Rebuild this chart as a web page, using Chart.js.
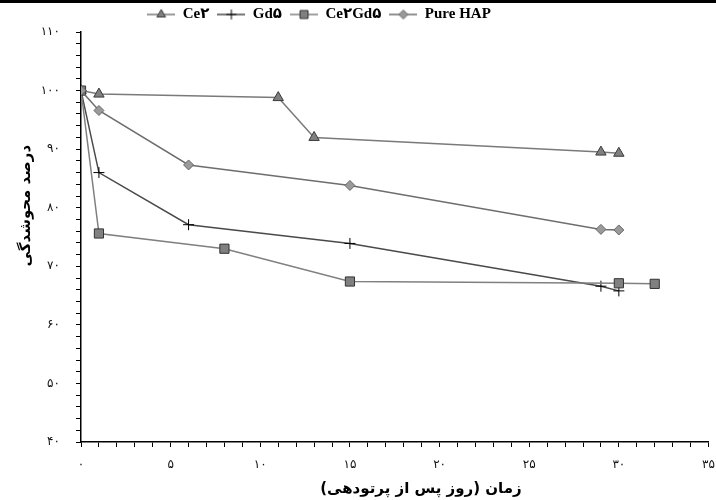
<!DOCTYPE html>
<html>
<head>
<meta charset="utf-8">
<script src="https://cdn.jsdelivr.net/npm/chart.js@4.4.0/dist/chart.umd.min.js"></script>
<style>
  html, body { margin: 0; padding: 0; background: #fff; }
  #wrap { position: relative; width: 716px; height: 500px; }
  #topline { position: absolute; left: 0; top: 0; width: 716px; height: 3px; background: #000; }
</style>
</head>
<body>
<div id="wrap">
  <canvas id="c" width="716" height="500"></canvas>
  <div id="topline"></div>
</div>
<script>
// ---- data ----
const seriesNames = ['Ce۲', 'Gd۵', 'Ce۲Gd۵', 'Pure HAP'];
const ce2Days   = [0, 1, 11, 13, 29, 30];
const ce2Values = [100, 99.4, 98.8, 92.0, 89.5, 89.3];
const gd5Days   = [0, 1, 6, 15, 29, 30];
const gd5Values = [100, 86.0, 77.1, 73.9, 66.6, 65.8];
const ce2gd5Days   = [0, 1, 8, 15, 30, 32];
const ce2gd5Values = [100, 75.6, 73.0, 67.4, 67.1, 67.0];
const hapDays   = [0, 1, 6, 15, 29, 30];
const hapValues = [100, 96.6, 87.3, 83.8, 76.3, 76.2];

const xTickValues = [0, 5, 10, 15, 20, 25, 30, 35];
const xTickLabels = ['۰', '۵', '۱۰', '۱۵', '۲۰', '۲۵', '۳۰', '۳۵'];
const yTickValues = [40, 50, 60, 70, 80, 90, 100, 110];
const yTickLabels = ['۴۰', '۵۰', '۶۰', '۷۰', '۸۰', '۹۰', '۱۰۰', '۱۱۰'];

const xTitle = 'زمان (روز پس از پرتودهی)';
const yTitle = 'درصد محوشدگی';

// ---- styles ----
const styles = [
  { line: '#7a7a7a', marker: 'triangle', fill: '#808080', border: '#3a3a3a', r: 6 },
  { line: '#4a4a4a', marker: 'cross', fill: '#000000', border: '#000000', r: 5.5 },
  { line: '#808080', marker: 'rect', fill: '#808080', border: '#333333', r: 6.5 },
  { line: '#6e6e6e', marker: 'rectRot', fill: '#9a9a9a', border: '#666666', r: 5 }
];

function pts(xs, ys) { return xs.map((x, i) => ({ x: x, y: ys[i] })); }

const allData = [
  pts(ce2Days, ce2Values),
  pts(gd5Days, gd5Values),
  pts(ce2gd5Days, ce2gd5Values),
  pts(hapDays, hapValues)
];

function legendImage(st) {
  const cv = document.createElement('canvas');
  cv.width = 28; cv.height = 14;
  const g = cv.getContext('2d');
  g.strokeStyle = st.line; g.lineWidth = 1.5;
  g.beginPath(); g.moveTo(0, 7); g.lineTo(28, 7); g.stroke();
  const cx = 14, cy = 7;
  g.fillStyle = st.fill; g.strokeStyle = st.border; g.lineWidth = 1;
  g.beginPath();
  if (st.marker === 'triangle') {
    const r = 5;
    g.moveTo(cx, cy - r);
    g.lineTo(cx + r * 0.866, cy + r * 0.5);
    g.lineTo(cx - r * 0.866, cy + r * 0.5);
    g.closePath(); g.fill(); g.stroke();
  } else if (st.marker === 'rect') {
    g.rect(cx - 4, cy - 4, 8, 8); g.fill(); g.stroke();
  } else if (st.marker === 'rectRot') {
    g.moveTo(cx, cy - 4.5); g.lineTo(cx + 4.5, cy); g.lineTo(cx, cy + 4.5); g.lineTo(cx - 4.5, cy);
    g.closePath(); g.fill(); g.stroke();
  } else {
    g.strokeStyle = '#000'; g.lineWidth = 1;
    g.moveTo(cx - 5, cy); g.lineTo(cx + 5, cy); g.moveTo(cx, cy - 5); g.lineTo(cx, cy + 5); g.stroke();
  }
  return cv;
}

const datasets = seriesNames.map((name, i) => ({
  label: name,
  data: allData[i],
  borderColor: styles[i].line,
  borderWidth: 1.5,
  backgroundColor: styles[i].fill,
  pointStyle: styles[i].marker,
  pointRadius: styles[i].r,
  pointHoverRadius: styles[i].r,
  pointBackgroundColor: styles[i].fill,
  pointBorderColor: styles[i].border,
  pointBorderWidth: 1,
  tension: 0,
  fill: false,
  order: 3 - i
}));

const legendShift = {
  id: 'legendShift',
  afterLayout(chart) {
    if (chart.legend) { chart.legend.left -= 36; chart.legend.right -= 36; }
  }
};

const pad = (n) => '\u00A0'.repeat(n);

new Chart(document.getElementById('c'), {
  type: 'line',
  data: { datasets: datasets },
  plugins: [legendShift],
  options: {
    responsive: false,
    animation: false,
    layout: { padding: { left: 0, right: 6, top: -1, bottom: 0 } },
    plugins: {
      tooltip: { enabled: false },
      legend: {
        position: 'top',
        align: 'center',
        labels: {
          usePointStyle: true,
          pointStyleWidth: 28,
          padding: 8,
          color: '#000',
          font: { family: "'Liberation Serif', 'DejaVu Sans', serif", size: 15, weight: 'bold' },
          generateLabels(chart) {
            return chart.data.datasets.map((ds, i) => ({
              text: ds.label,
              pointStyle: legendImage(styles[i]),
              fillStyle: ds.backgroundColor,
              strokeStyle: ds.borderColor,
              lineWidth: 0,
              hidden: false,
              datasetIndex: i,
              fontColor: '#000'
            }));
          }
        }
      }
    },
    scales: {
      x: {
        type: 'linear',
        min: 0, max: 35,
        border: { color: '#000', width: 1.5 },
        grid: { drawOnChartArea: false, drawTicks: true, tickLength: 5, color: '#000' },
        ticks: {
          stepSize: 1,
          autoSkip: false,
          maxRotation: 0,
          padding: 11,
          color: '#111',
          font: { family: "'DejaVu Sans', sans-serif", size: 12 },
          callback(v) {
            const k = xTickValues.indexOf(v);
            return k >= 0 ? xTickLabels[k] : '';
          }
        },
        title: {
          display: true,
          text: pad(10) + xTitle,
          color: '#000',
          font: { family: "'DejaVu Sans', sans-serif", size: 15, weight: 'bold' },
          padding: { top: 0, bottom: 2 }
        },
        afterFit(scale) { scale.height = 58; scale.paddingLeft = 0; scale.paddingRight = 0; }
      },
      y: {
        type: 'linear',
        min: 40, max: 110,
        border: { color: '#000', width: 1.5 },
        grid: { drawOnChartArea: false, drawTicks: true, tickLength: 5, color: '#000' },
        ticks: {
          stepSize: 2,
          autoSkip: false,
          padding: 16,
          color: '#111',
          font: { family: "'DejaVu Sans', sans-serif", size: 12 },
          callback(v) {
            const k = yTickValues.indexOf(v);
            return k >= 0 ? yTickLabels[k] : '';
          }
        },
        title: {
          display: true,
          text: pad(12) + yTitle,
          color: '#000',
          font: { family: "'DejaVu Sans', sans-serif", size: 15, weight: 'bold' },
          padding: { top: 17, bottom: 0 }
        },
        afterFit(scale) { scale.width = 81; scale.paddingTop = 0; scale.paddingBottom = 0; }
      }
    }
  }
});
</script>
</body>
</html>
